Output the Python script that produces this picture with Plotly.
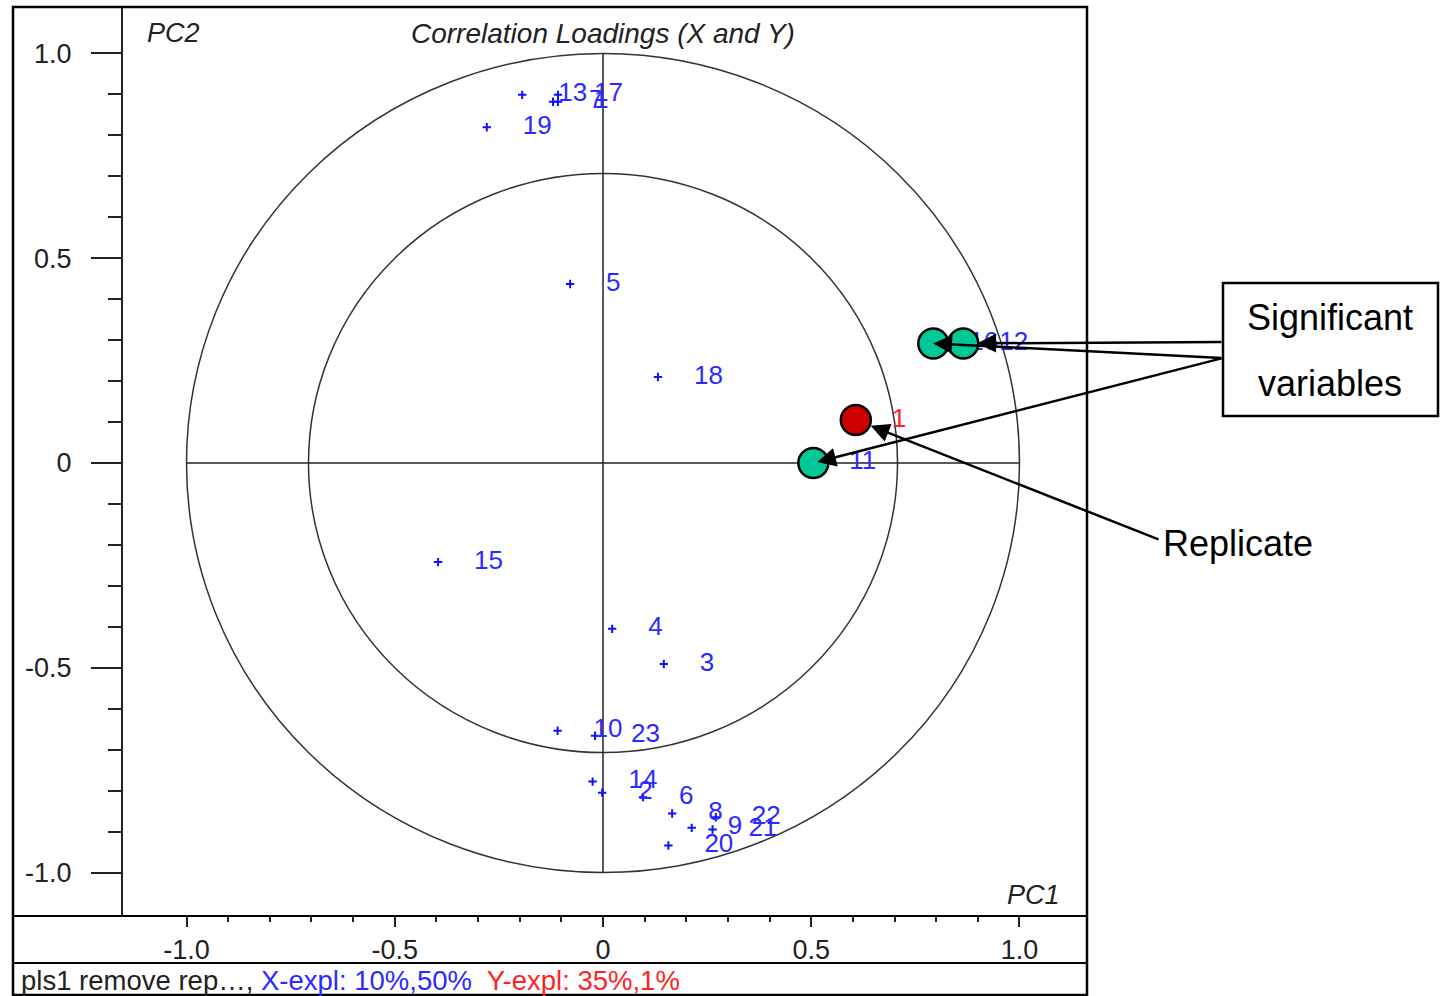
import plotly.graph_objects as go

# ---- X-variable correlation loadings (PC1, PC2) ----
x_labels = ["13", "17", "7", "1", "19", "5", "18", "15", "4", "3",
            "10", "23", "14", "2", "6", "8", "9", "20", "21", "22",
            "16", "12", "11"]
x_pc1 = [-0.194, -0.108, -0.120, -0.108, -0.279, -0.079, 0.132, -0.396, 0.022, 0.146,
         -0.109, -0.019, -0.025, -0.002, 0.096, 0.166, 0.213, 0.157, 0.263, 0.271,
         0.793, 0.865, 0.505]
x_pc2 = [0.899, 0.899, 0.882, 0.882, 0.820, 0.437, 0.210, -0.242, -0.405, -0.491,
         -0.654, -0.666, -0.778, -0.805, -0.816, -0.856, -0.891, -0.934, -0.895, -0.865,
         0.292, 0.292, 0.000]

# ---- Y-variable correlation loadings ----
y_labels = ["1"]
y_pc1 = [0.607]
y_pc2 = [0.105]

# highlighted variables
significant = ["16", "12", "11"]
replicate = "1"

tick_vals = [-1.0, -0.5, 0.0, 0.5, 1.0]
tick_text = ["-1.0", "-0.5", "0", "0.5", "1.0"]
minor_vals = [-0.9, -0.8, -0.7, -0.6, -0.4, -0.3, -0.2, -0.1,
              0.1, 0.2, 0.3, 0.4, 0.6, 0.7, 0.8, 0.9]

status_model = "pls1 remove rep…,"
status_x = "X-expl: 10%,50%"
status_y = "Y-expl: 35%,1%"

# ---- page geometry (pixels) ----
W, H = 1443, 996
L, R, T, B = 123, 1087, 7, 916
XR = [-1.1525, 1.1621]
YR = [-1.1062, 1.1135]

FONT = "Liberation Sans, Arial, sans-serif"
BLUE = "#2b2bff"
RED = "#ff2424"
INK = "#222222"


def px_x(v):
    return L + (v - XR[0]) / (XR[1] - XR[0]) * (R - L)


def px_y(v):
    return B - (v - YR[0]) / (YR[1] - YR[0]) * (B - T)


def pap_x(p):
    return (p - L) / (R - L)


def pap_y(p):
    return (B - p) / (B - T)


label_dx = 36 * (XR[1] - XR[0]) / (R - L)

fig = go.Figure()

# reference circles (100% and 50% explained variance) and cross-hair
shapes = []
for r in (1.0, 0.5 ** 0.5):
    shapes.append(dict(type="circle", xref="x", yref="y", x0=-r, x1=r, y0=-r, y1=r,
                       line=dict(color="#333333", width=1.5), layer="below"))
shapes.append(dict(type="line", xref="x", yref="y", x0=-1, x1=1, y0=0, y1=0,
                   line=dict(color=INK, width=1.5), layer="below"))
shapes.append(dict(type="line", xref="x", yref="y", x0=0, x1=0, y0=-1, y1=1,
                   line=dict(color=INK, width=1.5), layer="below"))

# X loadings: markers and labels
fig.add_trace(go.Scatter(x=x_pc1, y=x_pc2, mode="markers",
                         marker=dict(symbol="cross-thin", size=6,
                                     line=dict(color="#1010ff", width=2)),
                         hoverinfo="skip", showlegend=False))
fig.add_trace(go.Scatter(x=[v + label_dx for v in x_pc1], y=x_pc2, mode="text",
                         text=x_labels, textposition="middle right",
                         textfont=dict(family=FONT, size=26, color=BLUE),
                         hoverinfo="skip", showlegend=False))

# Y loadings
fig.add_trace(go.Scatter(x=y_pc1, y=y_pc2, mode="markers",
                         marker=dict(symbol="cross-thin", size=6,
                                     line=dict(color=RED, width=2)),
                         hoverinfo="skip", showlegend=False))
fig.add_trace(go.Scatter(x=[v + label_dx for v in y_pc1], y=y_pc2, mode="text",
                         text=y_labels, textposition="middle right",
                         textfont=dict(family=FONT, size=26, color=RED),
                         hoverinfo="skip", showlegend=False))

# highlighted points
sig_idx = [x_labels.index(s) for s in significant]
fig.add_trace(go.Scatter(x=[x_pc1[i] for i in sig_idx], y=[x_pc2[i] for i in sig_idx],
                         mode="markers",
                         marker=dict(size=30, color="#00c896",
                                     line=dict(color="black", width=2.5)),
                         hoverinfo="skip", showlegend=False))
ri = y_labels.index(replicate)
fig.add_trace(go.Scatter(x=[y_pc1[ri]], y=[y_pc2[ri]], mode="markers",
                         marker=dict(size=30, color="#cc0000",
                                     line=dict(color="black", width=2.5)),
                         hoverinfo="skip", showlegend=False))

# outer frame and separator lines of the plot window
fx0 = pap_x(13)
shapes.append(dict(type="rect", xref="paper", yref="paper",
                   x0=fx0, x1=1, y0=pap_y(995), y1=1,
                   line=dict(color="black", width=2.5)))
shapes.append(dict(type="line", xref="paper", yref="paper",
                   x0=fx0, x1=1, y0=0, y1=0, line=dict(color="black", width=2)))
shapes.append(dict(type="line", xref="paper", yref="paper",
                   x0=fx0, x1=1, y0=pap_y(963), y1=pap_y(963),
                   line=dict(color="black", width=2)))

# callout box
shapes.append(dict(type="rect", xref="paper", yref="paper",
                   x0=pap_x(1223), x1=pap_x(1438), y0=pap_y(416), y1=pap_y(283),
                   line=dict(color="black", width=2.5), fillcolor="white"))

annotations = []


def txt(text, x, y, size, color=INK, xanchor="center", italic=False):
    annotations.append(dict(text=text, x=pap_x(x), y=pap_y(y), xref="paper", yref="paper",
                            xanchor=xanchor, yanchor="middle", showarrow=False,
                            font=dict(family=FONT, size=size, color=color,
                                      style="italic" if italic else "normal")))


txt("Correlation Loadings (X and Y)", 603, 33, 28, italic=True)
txt("PC2", 145, 33, 27, xanchor="left", italic=True)
txt("PC1", 1062, 895, 27, xanchor="right", italic=True)
txt(f"{status_model} <span style='color:{BLUE}'>{status_x}</span>  "
    f"<span style='color:{RED}'>{status_y}</span>", 19, 980, 27.5, xanchor="left")
txt("Significant", 1330, 318, 36, color="black")
txt("variables", 1330, 384, 36, color="black")
txt("Replicate", 1161, 544, 36, color="black", xanchor="left")


def arrow(x, y, tail, standoff):
    annotations.append(dict(x=x, y=y, xref="x", yref="y", text="", showarrow=True,
                            axref="pixel", ayref="pixel",
                            ax=tail[0] - px_x(x), ay=tail[1] - px_y(y),
                            arrowhead=2, arrowsize=1.5, arrowwidth=2.5,
                            arrowcolor="black", standoff=standoff))


arrow(x_pc1[x_labels.index("12")], x_pc2[x_labels.index("12")], (1223, 342), 14)
arrow(x_pc1[x_labels.index("16")], x_pc2[x_labels.index("16")], (1223, 358), 0)
arrow(x_pc1[x_labels.index("11")], x_pc2[x_labels.index("11")], (1223, 358), 4)
arrow(y_pc1[ri], y_pc2[ri], (1160, 540), 16)

axis_font = dict(family=FONT, size=27, color=INK)
fig.update_layout(
    width=W, height=H,
    margin=dict(l=L, r=W - R, t=T, b=H - B),
    paper_bgcolor="white", plot_bgcolor="white",
    showlegend=False,
    shapes=shapes, annotations=annotations,
    xaxis=dict(range=XR, showgrid=False, zeroline=False, showline=False,
               tickvals=tick_vals, ticktext=tick_text, ticks="outside",
               ticklen=10, tickwidth=2, tickcolor=INK, tickfont=axis_font,
               minor=dict(tickvals=minor_vals, ticks="outside", ticklen=5,
                          tickwidth=2, tickcolor=INK),
               fixedrange=True),
    yaxis=dict(range=YR, showgrid=False, zeroline=False, showline=True,
               linecolor=INK, linewidth=2,
               tickvals=tick_vals, ticktext=tick_text, ticks="outside",
               ticklen=30, tickwidth=2, tickcolor=INK, tickfont=axis_font,
               ticklabelstandoff=14,
               minor=dict(tickvals=minor_vals, ticks="outside", ticklen=13,
                          tickwidth=2, tickcolor=INK),
               fixedrange=True),
)

fig.write_html("out.html")
